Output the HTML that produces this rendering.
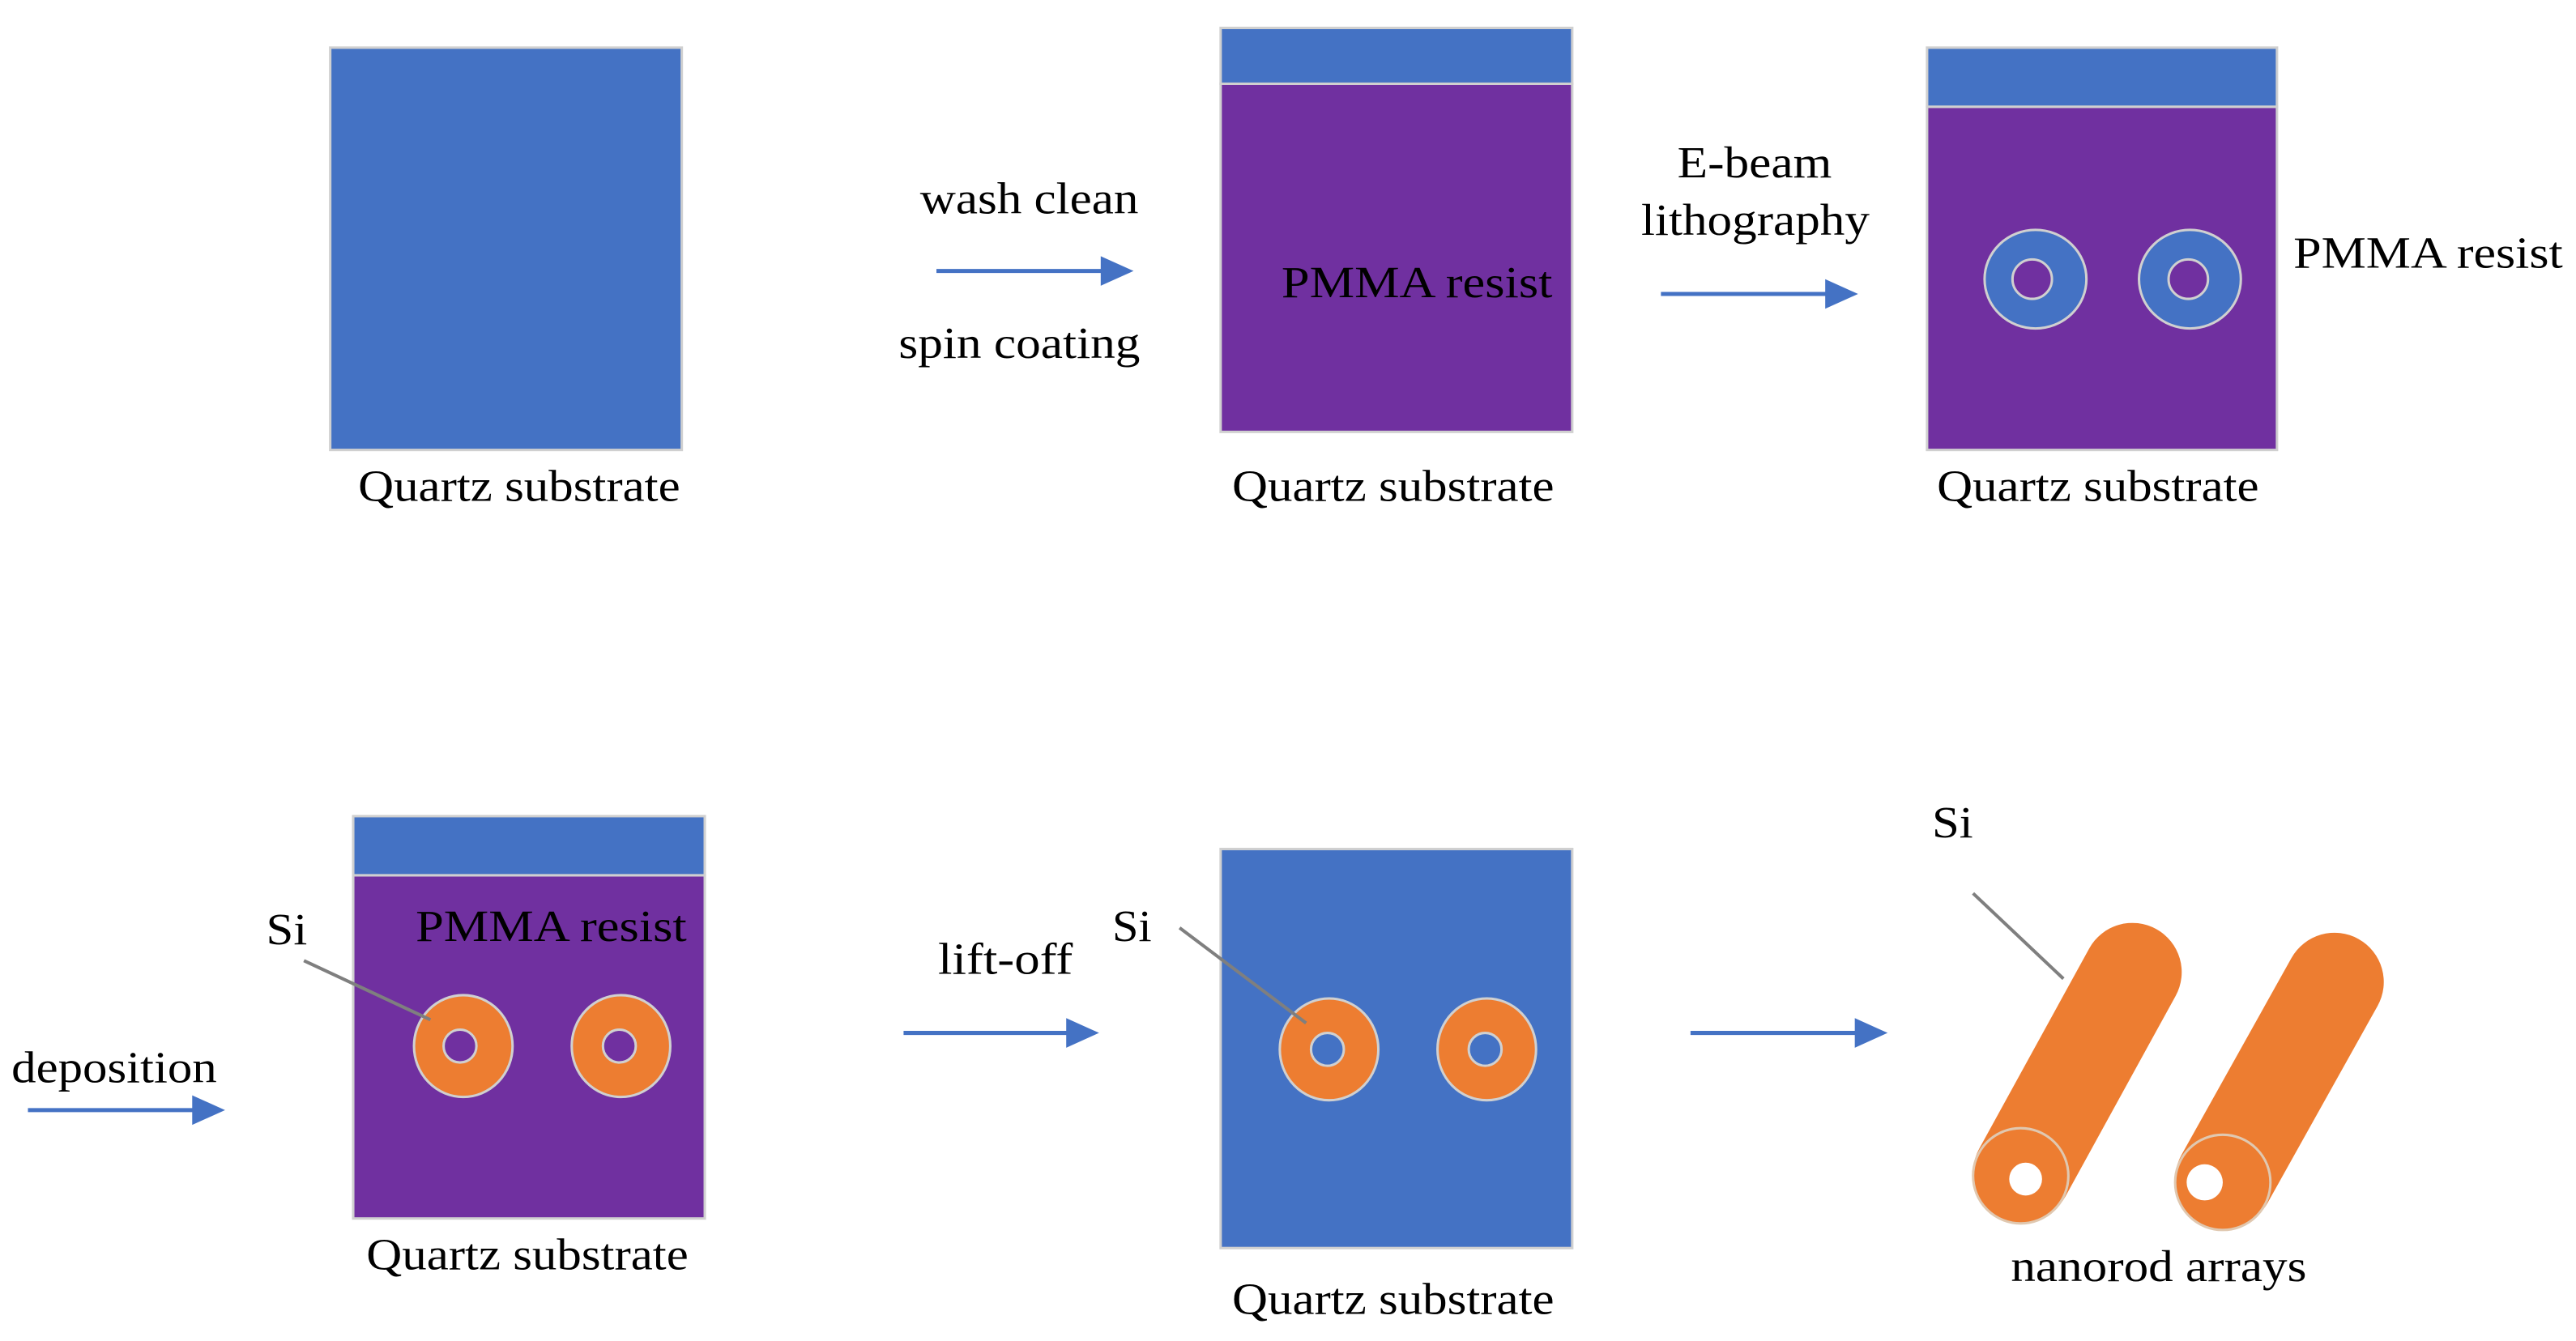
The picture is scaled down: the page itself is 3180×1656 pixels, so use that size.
<!DOCTYPE html>
<html><head><meta charset="utf-8"><style>
html,body{margin:0;padding:0;background:#fff;}
svg{display:block;}
text{font-family:"Liberation Serif",serif;font-size:27px;fill:#000;}
</style></head><body>
<svg width="3180" height="1656" viewBox="0 0 1568 816.6" preserveAspectRatio="none" xmlns="http://www.w3.org/2000/svg">
<g stroke="#d0d0d0" stroke-width="1.5">
<rect x="201" y="29" width="214" height="245" fill="#4472C4"/>
<rect x="743" y="51" width="214" height="212" fill="#7030A0"/>
<rect x="743" y="17" width="214" height="34" fill="#4472C4"/>
<rect x="1173" y="65" width="213" height="209" fill="#7030A0"/>
<rect x="1173" y="29" width="213" height="36" fill="#4472C4"/>
<ellipse cx="1239" cy="170" rx="31" ry="30" fill="#4472C4"/>
<circle cx="1237" cy="170" r="12" fill="#7030A0"/>
<ellipse cx="1333" cy="170" rx="31" ry="30" fill="#4472C4"/>
<circle cx="1332" cy="170" r="12" fill="#7030A0"/>
<rect x="215" y="533" width="214" height="209" fill="#7030A0"/>
<rect x="215" y="497" width="214" height="36" fill="#4472C4"/>
<ellipse cx="282" cy="637" rx="30" ry="31" fill="#ED7D31"/>
<circle cx="280" cy="637" r="10" fill="#7030A0"/>
<ellipse cx="378" cy="637" rx="30" ry="31" fill="#ED7D31"/>
<circle cx="377" cy="637" r="10" fill="#7030A0"/>
<rect x="743" y="517" width="214" height="243" fill="#4472C4"/>
<ellipse cx="809" cy="639" rx="30" ry="31" fill="#ED7D31"/>
<circle cx="808" cy="639" r="10" fill="#4472C4"/>
<ellipse cx="905" cy="639" rx="30" ry="31" fill="#ED7D31"/>
<circle cx="904" cy="639" r="10" fill="#4472C4"/>
</g>
<g>
<line x1="1231" y1="714" x2="1298" y2="592" stroke="#ED7D31" stroke-width="60" stroke-linecap="round"/>
<circle cx="1230" cy="716" r="29" fill="#ED7D31" stroke="#e0c8b0" stroke-width="1.5"/>
<circle cx="1233" cy="718" r="10" fill="#fff"/>
<line x1="1354" y1="718" x2="1421" y2="598" stroke="#ED7D31" stroke-width="60" stroke-linecap="round"/>
<circle cx="1353" cy="720" r="29" fill="#ED7D31" stroke="#e0c8b0" stroke-width="1.5"/>
<circle cx="1342" cy="720" r="11" fill="#fff"/>
</g>
<g stroke="#7f7f7f" stroke-width="2">
<line x1="185" y1="585" x2="262" y2="621"/>
<line x1="718" y1="565" x2="795" y2="623"/>
<line x1="1201" y1="544" x2="1256" y2="596"/>
</g>
<g stroke="#4472C4" stroke-width="2.5">
<line x1="570" y1="165" x2="672" y2="165"/>
<line x1="1011" y1="179" x2="1113" y2="179"/>
<line x1="17" y1="676" x2="119" y2="676"/>
<line x1="550" y1="629" x2="651" y2="629"/>
<line x1="1029" y1="629" x2="1131" y2="629"/>
</g>
<g fill="#4472C4">
<polygon points="670,156 690,165 670,174"/>
<polygon points="1111,170 1131,179 1111,188"/>
<polygon points="117,667 137,676 117,685"/>
<polygon points="649,620 669,629 649,638"/>
<polygon points="1129,620 1149,629 1129,638"/>
</g>
<g lengthAdjust="spacingAndGlyphs">
<text x="218" y="305" textLength="196" lengthAdjust="spacingAndGlyphs">Quartz substrate</text>
<text x="750" y="305" textLength="196" lengthAdjust="spacingAndGlyphs">Quartz substrate</text>
<text x="1179" y="305" textLength="196" lengthAdjust="spacingAndGlyphs">Quartz substrate</text>
<text x="223" y="773" textLength="196" lengthAdjust="spacingAndGlyphs">Quartz substrate</text>
<text x="750" y="800" textLength="196" lengthAdjust="spacingAndGlyphs">Quartz substrate</text>
<text x="1224" y="780" textLength="180" lengthAdjust="spacingAndGlyphs">nanorod arrays</text>
<text x="560" y="130" textLength="133" lengthAdjust="spacingAndGlyphs">wash clean</text>
<text x="547" y="218" textLength="147" lengthAdjust="spacingAndGlyphs">spin coating</text>
<text x="1021" y="108" textLength="94" lengthAdjust="spacingAndGlyphs">E-beam</text>
<text x="999" y="143" textLength="139" lengthAdjust="spacingAndGlyphs">lithography</text>
<text x="7" y="659" textLength="125" lengthAdjust="spacingAndGlyphs">deposition</text>
<text x="571" y="593" textLength="82" lengthAdjust="spacingAndGlyphs">lift-off</text>
<text x="780" y="181" textLength="165" lengthAdjust="spacingAndGlyphs">PMMA resist</text>
<text x="1396" y="163" textLength="164" lengthAdjust="spacingAndGlyphs">PMMA resist</text>
<text x="253" y="573" textLength="165" lengthAdjust="spacingAndGlyphs">PMMA resist</text>
<text x="162" y="575" textLength="25" lengthAdjust="spacingAndGlyphs">Si</text>
<text x="677" y="573" textLength="24" lengthAdjust="spacingAndGlyphs">Si</text>
<text x="1176" y="510" textLength="25" lengthAdjust="spacingAndGlyphs">Si</text>
</g>
</svg>
</body></html>
